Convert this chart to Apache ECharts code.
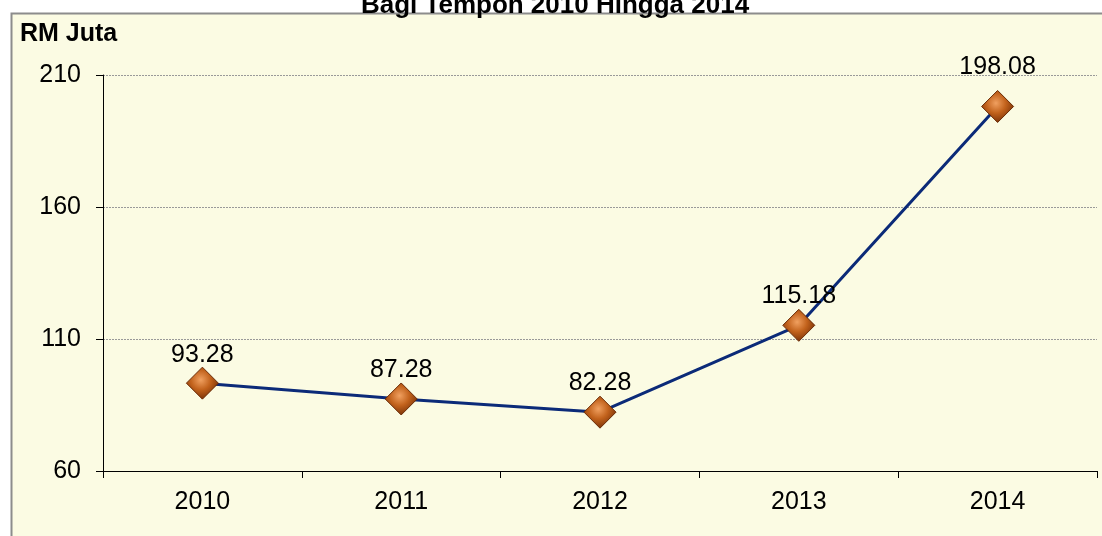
<!DOCTYPE html>
<html>
<head>
<meta charset="utf-8">
<script src="https://cdn.jsdelivr.net/npm/echarts@6/dist/echarts.min.js"></script>
<style>
  html, body { margin: 0; padding: 0; background: #fff; }
  #chart { width: 1102px; height: 536px; }
</style>
</head>
<body>
<div id="chart"></div>
<script>
// data
var years = ['2010', '2011', '2012', '2013', '2014'];
var values = [93.28, 87.28, 82.28, 115.18, 198.08];
var labelGap = [-1, 0, 0, 0, 10]; // 2014 label sits a bit higher in the original

var chart = echarts.init(document.getElementById('chart'));

var pts = values.map(function (v, i) {
  return {
    value: v,
    label: { distance: labelGap[i] }
  };
});

var option = {
  backgroundColor: '#ffffff',
  animation: false,
  textStyle: { fontFamily: 'Arial, "Liberation Sans", sans-serif' },
  graphic: [{
    type: 'rect',
    shape: { x: 11.5, y: 13.5, width: 1100, height: 530 },
    style: { fill: '#FBFBE3', stroke: '#8c8c8c', lineWidth: 2 },
    z: -10
  }],
  title: {
    text: 'Bagi Tempoh 2010 Hingga 2014',
    left: 550,
    textAlign: 'center',
    top: -12,
    textStyle: { fontSize: 26, fontWeight: 'bold', color: '#000' }
  },
  grid: { left: 103, right: 5, top: 75, bottom: 65 },
  xAxis: {
    type: 'category',
    data: years,
    boundaryGap: true,
    axisLine: { lineStyle: { color: '#000', width: 1 } },
    axisTick: { show: true, length: 7, inside: false, lineStyle: { color: '#000' } },
    axisLabel: { color: '#000', fontSize: 25, margin: 19 }
  },
  yAxis: {
    type: 'value',
    name: 'RM Juta',
    nameLocation: 'end',
    nameGap: 28,
    nameTextStyle: { fontSize: 25, fontWeight: 'bold', color: '#000', align: 'left', padding: [0, 0, 0, -83] },
    min: 60,
    max: 210,
    interval: 50,
    axisLine: { show: true, lineStyle: { color: '#000', width: 1 } },
    axisTick: { show: true, length: 7, lineStyle: { color: '#000' } },
    axisLabel: { color: '#000', fontSize: 25, margin: 22 },
    splitLine: { show: true, lineStyle: { color: '#999', type: [2, 1], width: 1 } }
  },
  series: [{
    type: 'line',
    data: pts,
    symbol: 'diamond',
    symbolSize: [32, 32],
    lineStyle: { color: '#0B2A78', width: 3 },
    itemStyle: {
      color: {
        type: 'radial', x: 0.45, y: 0.4, r: 0.6,
        colorStops: [
          { offset: 0, color: '#F0A060' },
          { offset: 0.5, color: '#C2621C' },
          { offset: 1, color: '#7A3208' }
        ]
      },
      borderColor: '#6a2a05',
      borderWidth: 1
    },
    label: {
      show: true,
      position: 'top',
      color: '#000',
      fontSize: 25,
      formatter: function (p) { return p.value.toFixed(2); }
    },
    z: 5
  }]
};

chart.setOption(option);
</script>
</body>
</html>
